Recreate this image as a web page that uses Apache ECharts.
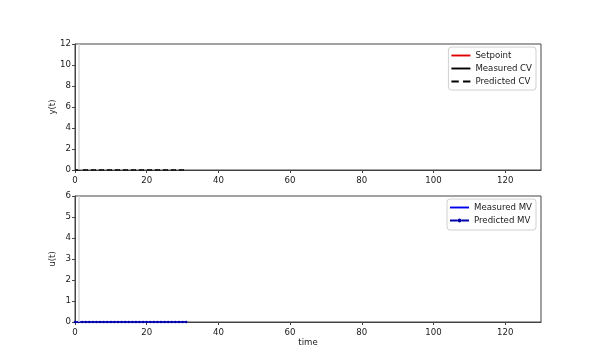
<!DOCTYPE html>
<html><head><meta charset="utf-8">
<script src="https://cdn.jsdelivr.net/npm/echarts@6/dist/echarts.min.js"></script>
<style>html,body{margin:0;padding:0;background:#fff}#c{width:600px;height:362px}</style>
</head><body><div id="c"></div>
<script>
// Data
var xTicks = [0, 20, 40, 60, 80, 100, 120];
var yTicksTop = [0, 2, 4, 6, 8, 10, 12];
var yTicksBottom = [0, 1, 2, 3, 4, 5, 6];
var tMeasured = [0];
var setpoint = [0];
var measuredCV = [0];
var measuredMV = [0];
var tPred = [0,1,2,3,4,5,6,7,8,9,10,11,12,13,14,15,16,17,18,19,20,21,22,23,24,25,26,27,28,29,30,31];
var predictedCV = [0,0,0,0,0,0,0,0,0,0,0,0,0,0,0,0,0,0,0,0,0,0,0,0,0,0,0,0,0,0,0,0];
var predictedMV = [0,0,0,0,0,0,0,0,0,0,0,0,0,0,0,0,0,0,0,0,0,0,0,0,0,0,0,0,0,0,0,0];
var markerTime = 1;

function pairs(t, v) { return t.map(function (x, i) { return [x, v[i]]; }); }

var font = 'DejaVu Sans';
var fs = 8.6;
var txt = '#1a1a1a';
function xAxis(idx, name) {
  return {
    type: 'value', gridIndex: idx, min: 0, max: 130,
    name: name, nameLocation: 'middle', nameGap: 16, nameMoveOverlap: false,
    nameTextStyle: {fontFamily: font, fontSize: fs, color: txt, verticalAlign: 'top'},
    axisLine: {show: true, onZero: false, lineStyle: {color: '#444', width: 1}},
    axisTick: {show: true, length: 3, customValues: xTicks, lineStyle: {color: '#444'}},
    axisLabel: {fontFamily: font, fontSize: fs, color: txt, margin: 6, customValues: xTicks},
    splitLine: {show: false}
  };
}
function yAxis(idx, max, ticks, name) {
  return {
    type: 'value', gridIndex: idx, min: 0, max: max,
    name: name, nameLocation: 'middle', nameGap: 18, nameRotate: 90, nameMoveOverlap: false,
    nameTextStyle: {fontFamily: font, fontSize: fs, color: txt},
    axisLine: {show: true, onZero: false, lineStyle: {color: '#444', width: 1}},
    axisTick: {show: true, length: 3, customValues: ticks, lineStyle: {color: '#444'}},
    axisLabel: {fontFamily: font, fontSize: fs, color: txt, margin: 4, customValues: ticks},
    splitLine: {show: false}
  };
}
var vline = {
  silent: true, symbol: 'none', label: {show: false},
  lineStyle: {color: '#d4d4d4', width: 1.5, type: 'solid'},
  data: [{xAxis: markerTime}]
};

var solidIcon = 'path://M0,0h20v2h-20z';
var dashIcon = 'path://M0,0h7v2h-7z M11,0h7v2h-7z';
var dotLineIcon = 'path://M0,2h8v2h-8z M12,2h8v2h-8z M8,3a2,2 0 1,0 4,0a2,2 0 1,0 -4,0z';

var legendBase = {
  orient: 'vertical', right: 64, itemWidth: 19, itemHeight: 8,
  symbolKeepAspect: true,
  borderColor: '#d0d0d0', borderWidth: 1, borderRadius: 3,
  backgroundColor: '#fff',
  textStyle: {fontFamily: font, fontSize: fs, color: txt}
};

var chart = echarts.init(document.getElementById('c'), null, {renderer: 'canvas'});
chart.setOption({
  animation: false,
  backgroundColor: '#fff',
  grid: [
    {left: 75, top: 44, width: 466, height: 126, show: true, borderColor: '#444', borderWidth: 1},
    {left: 75, top: 196, width: 466, height: 126, show: true, borderColor: '#444', borderWidth: 1}
  ],
  xAxis: [xAxis(0, ''), xAxis(1, 'time')],
  yAxis: [yAxis(0, 12, yTicksTop, 'y(t)'), yAxis(1, 6, yTicksBottom, 'u(t)')],
  legend: [
    Object.assign({}, legendBase, {
      top: 47, itemGap: 4, padding: [4, 4, 4, 3],
      data: [
        {name: 'Setpoint', icon: solidIcon},
        {name: 'Measured CV', icon: solidIcon},
        {name: 'Predicted CV', icon: dashIcon}
      ]
    }),
    Object.assign({}, legendBase, {
      top: 199, itemGap: 4, padding: [4, 4, 5, 3],
      data: [
        {name: 'Measured MV', icon: solidIcon},
        {name: 'Predicted MV', icon: dotLineIcon}
      ]
    })
  ],
  series: [
    {name: 'Setpoint', type: 'line', xAxisIndex: 0, yAxisIndex: 0, data: pairs(tMeasured, setpoint),
      showSymbol: false, symbol: 'none', color: '#e00000', lineStyle: {color: '#e00000', width: 1.5},
      markLine: vline},
    {name: 'Measured CV', type: 'line', xAxisIndex: 0, yAxisIndex: 0, data: pairs(tMeasured, measuredCV),
      showSymbol: false, symbol: 'none', color: '#000', lineStyle: {color: '#000', width: 1.5}},
    {name: 'Predicted CV', type: 'line', xAxisIndex: 0, yAxisIndex: 0, data: pairs(tPred, predictedCV),
      showSymbol: false, symbol: 'none', color: '#000', lineStyle: {color: '#000', width: 1.6, type: [5, 3]}},
    {name: 'Measured MV', type: 'line', xAxisIndex: 1, yAxisIndex: 1, data: pairs(tMeasured, measuredMV),
      showSymbol: false, symbol: 'none', color: '#0000ee', lineStyle: {color: '#0000ee', width: 1.5},
      markLine: vline},
    {name: 'Predicted MV', type: 'line', xAxisIndex: 1, yAxisIndex: 1, data: pairs(tPred, predictedMV),
      symbol: 'circle', symbolSize: 2.5, showSymbol: true, color: '#0000ee',
      itemStyle: {color: '#0000aa'}, lineStyle: {color: '#0000ee', width: 1.6}}
  ]
});
</script>
</body></html>
